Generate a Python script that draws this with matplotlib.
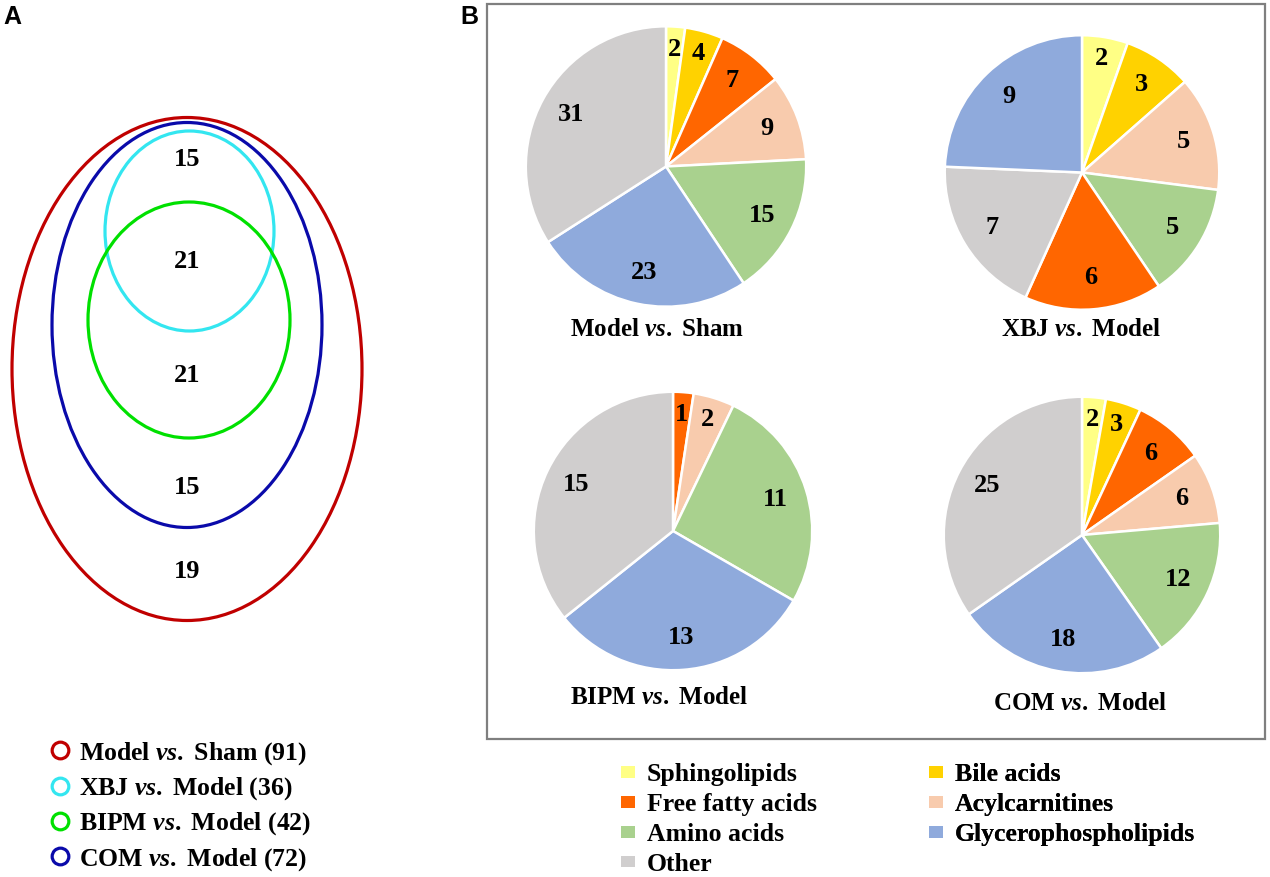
import matplotlib
matplotlib.use("Agg")
import matplotlib.pyplot as plt
from matplotlib.patches import Ellipse, Rectangle
from matplotlib.lines import Line2D
import numpy as np

plt.rcParams['font.family'] = ['Liberation Serif', 'DejaVu Serif']
plt.rcParams['font.weight'] = 'bold'
plt.rcParams['mathtext.fontset'] = 'custom'
plt.rcParams['mathtext.it'] = 'Liberation Serif:italic:bold'
plt.rcParams['mathtext.rm'] = 'Liberation Serif:bold'
plt.rcParams['mathtext.bf'] = 'Liberation Serif:bold'

# ---------------- data ----------------
venn_sets = ["Model vs. Sham", "XBJ vs. Model", "BIPM vs. Model", "COM vs. Model"]
venn_totals = [91, 36, 42, 72]
venn_region_counts = [15, 21, 21, 15, 19]   # top to bottom

categories = ["Sphingolipids", "Bile acids", "Free fatty acids", "Acylcarnitines",
              "Amino acids", "Glycerophospholipids", "Other"]
cat_colors = {"Sphingolipids": "#FFFF85", "Bile acids": "#FFD200",
              "Free fatty acids": "#FF6600", "Acylcarnitines": "#F8CBAD",
              "Amino acids": "#A9D18E", "Glycerophospholipids": "#8FAADC",
              "Other": "#D0CECE"}

model_sham_cats = ["Sphingolipids", "Bile acids", "Free fatty acids", "Acylcarnitines",
                   "Amino acids", "Glycerophospholipids", "Other"]
model_sham_vals = [2, 4, 7, 9, 15, 23, 31]

xbj_cats = ["Sphingolipids", "Bile acids", "Acylcarnitines", "Amino acids",
            "Free fatty acids", "Other", "Glycerophospholipids"]
xbj_vals = [2, 3, 5, 5, 6, 7, 9]

bipm_cats = ["Free fatty acids", "Acylcarnitines", "Amino acids",
             "Glycerophospholipids", "Other"]
bipm_vals = [1, 2, 11, 13, 15]

com_cats = ["Sphingolipids", "Bile acids", "Free fatty acids", "Acylcarnitines",
            "Amino acids", "Glycerophospholipids", "Other"]
com_vals = [2, 3, 6, 6, 12, 18, 25]

# ---------------- figure ----------------
W, H = 1270, 877
fig = plt.figure(figsize=(W / 100, H / 100), dpi=100)
ax = fig.add_axes([0, 0, 1, 1])
ax.set_xlim(0, W)
ax.set_ylim(H, 0)
ax.axis('off')

# Panel letters
ax.text(3, 17, "A", family=['Liberation Sans', 'DejaVu Sans'], fontsize=18,
        fontweight='bold', va='center', ha='left')
ax.text(460, 17, "B", family=['Liberation Sans', 'DejaVu Sans'], fontsize=18,
        fontweight='bold', va='center', ha='left')

# ---------------- Panel A: nested ellipses ----------------
# colours in the order of venn_sets
venn_colors = ["#C00000", "#33E6F0", "#00E000", "#0A0AAA"]
# (cx, cy, width, height) in pixel units, order of venn_sets
venn_geom = [(187, 369, 350, 503), (189.5, 231, 169, 200),
             (189, 320, 202, 236), (187, 325, 270, 405)]
for i in [0, 3, 1, 2]:
    cx, cy, w, h = venn_geom[i]
    ax.add_patch(Ellipse((cx, cy), w, h, fill=False, edgecolor=venn_colors[i],
                         linewidth=2.3))

region_y = [160, 262, 376, 488, 572]
for n, y in zip(venn_region_counts, region_y):
    ax.text(187, y, str(n), fontsize=19, fontweight='bold', ha='center', va='center')

legA_handles = [Line2D([], [], linestyle='none', marker='o', markersize=12,
                       markerfacecolor='white', markeredgecolor=c, markeredgewidth=2.3)
                for c in venn_colors]
legA_labels = [f"{s.split(' vs. ')[0]} $\\mathit{{vs.}}$ {s.split(' vs. ')[1]} ({t})"
               for s, t in zip(venn_sets, venn_totals)]
legA = ax.legend(legA_handles, legA_labels, loc='upper left',
                 bbox_to_anchor=(47 / W, 1 - 740 / H), bbox_transform=fig.transFigure,
                 frameon=False, fontsize=18.5, handlelength=1.0, handletextpad=0.25,
                 labelspacing=0.33, borderaxespad=0, borderpad=0)
ax.add_artist(legA)

# ---------------- Panel B: pies ----------------
ax.add_patch(Rectangle((487, 4), 778, 735, fill=False, edgecolor='#7F7F7F',
                       linewidth=1.6))

pies = [
    (model_sham_cats, model_sham_vals, (666, 166.5, 143), "Model", "Sham", (657, 330)),
    (xbj_cats, xbj_vals, (1082, 172.5, 140), "XBJ", "Model", (1081, 330)),
    (bipm_cats, bipm_vals, (673, 531, 142), "BIPM", "Model", (659, 697)),
    (com_cats, com_vals, (1082, 535, 141), "COM", "Model", (1080, 703)),
]
for cats, vals, (cx, cy, r), t1, t2, (tx, ty) in pies:
    pax = fig.add_axes([(cx - r) / W, 1 - (cy + r) / H, 2 * r / W, 2 * r / H])
    wedges, _ = pax.pie(vals, colors=[cat_colors[c] for c in cats], startangle=90,
                        counterclock=False, radius=1,
                        wedgeprops=dict(edgecolor='white', linewidth=1.8))
    pax.set_xlim(-1.02, 1.02)
    pax.set_ylim(-1.02, 1.02)
    pax.set_aspect('equal')
    pax.axis('off')
    total = sum(vals)
    for wdg, v in zip(wedges, vals):
        mid = np.deg2rad((wdg.theta1 + wdg.theta2) / 2)
        d = 0.84 if v / total < 0.06 else 0.77
        pax.text(d * np.cos(mid), d * np.sin(mid), str(v), fontsize=19,
                 fontweight='bold', ha='center', va='center')
    ax.text(tx, ty, f"{t1} $\\mathit{{vs.}}$ {t2}", fontsize=18, fontweight='bold',
            ha='center', va='center')

# legend in two columns (two legend boxes)
col1 = ["Sphingolipids", "Free fatty acids", "Amino acids", "Other"]
col2 = ["Bile acids", "Acylcarnitines", "Glycerophospholipids"]
for col, x0 in [(col1, 621), (col2, 929)]:
    hs = [Rectangle((0, 0), 1, 1, facecolor=cat_colors[c], edgecolor='none') for c in col]
    lg = ax.legend(hs, col, loc='upper left',
                   bbox_to_anchor=(x0 / W, 1 - 763 / H), bbox_transform=fig.transFigure,
                   frameon=False, fontsize=18.5, handlelength=0.55, handleheight=0.33,
                   handletextpad=0.45, labelspacing=0.27,
                   borderaxespad=0, borderpad=0)
    ax.add_artist(lg)

fig.savefig("out.png", dpi=100)
